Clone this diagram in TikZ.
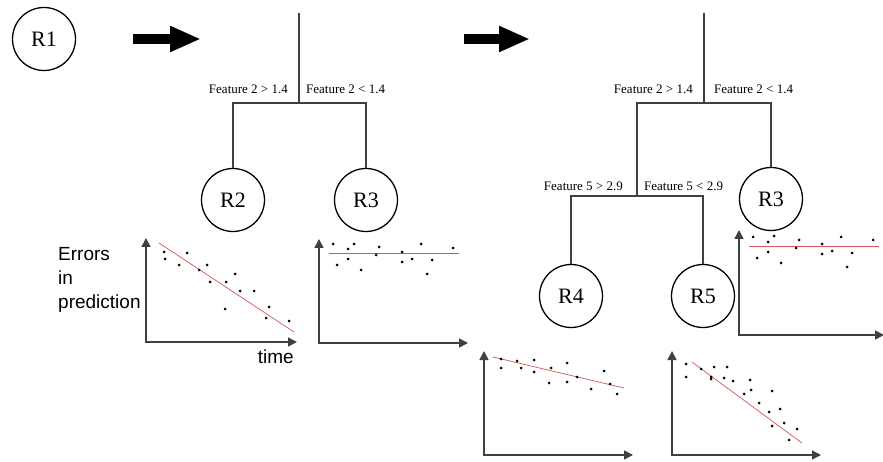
\documentclass[tikz,border=0pt]{standalone}
\usepackage{fontspec}
\setmainfont{Liberation Serif}
\newfontfamily\arialfont{Liberation Sans}
\usetikzlibrary{arrows.meta, positioning}
\definecolor{gray1}{RGB}{64,64,64}
\definecolor{red1}{RGB}{214,84,84}

\begin{document}
\begin{tikzpicture}[x=1pt, y=-1pt]

\tikzstyle{region}	=[circle, draw=black, line width=1.3pt, minimum size=63pt, inner sep=0pt, font=\fontsize{22}{24}\selectfont]
\tikzstyle{feat}	=[inner sep=0pt, font=\fontsize{13}{15}\selectfont]
\tikzstyle{lbl}	=[inner sep=0pt, font=\arialfont\fontsize{19}{24}\selectfont]
\tikzstyle{branch}	=[draw=gray1, line width=1.3pt]
\tikzstyle{axes}	=[draw=gray1, line width=1.5pt, {Triangle[length=9pt,width=9pt]}-{Triangle[length=9pt,width=9pt]}]
\tikzstyle{trend}	=[draw=red1, line width=0.7pt]
\tikzstyle{dot}	=[fill=black]
\tikzstyle{bigarrow}	=[line width=10pt, -{Triangle[length=31pt,width=24pt]}]

\useasboundingbox (0,0) rectangle (883,462);

% single region
\node[region] (r1) at (44,39) {R1};

\coordinate (a1s) at (133,39);
\coordinate (a1e) at (201,39);
\draw[bigarrow] (a1s) -- (a1e);

% first split
\coordinate (t1top)   at (299,13);
\coordinate (t1split) at (299,103);
\node[region] (r2)  at (233,200) {R2};
\node[region] (r3a) at (366,200) {R3};

\node[feat, above left=9.5pt and 11pt of t1split]  (f2a) {Feature 2 > 1.4};
\node[feat, above right=9.5pt and 7pt of t1split]  (f2b) {Feature 2 < 1.4};

\draw[branch] (t1top) -- (t1split);
\draw[branch] (r2.north) |- (t1split) -| (r3a.north);

\coordinate (a2s) at (464,39);
\coordinate (a2e) at (530,39);
\draw[bigarrow] (a2s) -- (a2e);

% second split
\coordinate (t2top)    at (704,13);
\coordinate (t2split)  at (704,103);
\coordinate (t2split2) at (637,196);
\node[region] (r3b) at (771,199) {R3};
\node[region] (r4)  at (571,296) {R4};
\node[region] (r5)  at (703,296) {R5};

\node[feat, above left=9.5pt and 11pt of t2split]   (f2c) {Feature 2 > 1.4};
\node[feat, above right=9.5pt and 10pt of t2split]  (f2d) {Feature 2 < 1.4};
\node[feat, above left=5.5pt and 14pt of t2split2]  (f5a) {Feature 5 > 2.9};
\node[feat, above right=5.5pt and 7pt of t2split2]  (f5b) {Feature 5 < 2.9};

\draw[branch] (t2top) -- (t2split);
\draw[branch] (t2split2) |- (t2split) -| (r3b.north);
\draw[branch] (r4.north) |- (t2split2) -| (r5.north);

% error plots
\coordinate (y1) at (146,238); \coordinate (x1) at (297,342);
\coordinate (y2) at (319,239); \coordinate (x2) at (468,343);
\coordinate (y3) at (739,230); \coordinate (x3) at (884,335);
\coordinate (y4) at (484,351); \coordinate (x4) at (633,455);
\coordinate (y5) at (672,351); \coordinate (x5) at (821,455);
\foreach \n in {1,...,5}
  \draw[axes] (y\n) |- (x\n);

\node[lbl, align=left, anchor=north west] (errlbl) at (58,247) {Errors\\in\\prediction};
\node[lbl, anchor=base east] (timelbl) at (294,363) {time};

\draw[trend] (159,243) -- (294,332);
\foreach \p in {(164,252),(165,259),(179,265),(187,253),(199,270),(207,265),(210,282),(226,282),
                (235,274),(240,291),(254,291),(225,309),(269,307),(266,318),(289,321)}
  \fill[dot] \p circle (1.5);

\draw[trend] (329,253) -- (459,253);
\foreach \p in {(333,244),(337,265),(348,249),(348,259),(354,244),(361,270),(376,255),(379,247),
                (402,252),(402,262),(412,259),(421,244),(432,260),(427,274),(453,248)}
  \fill[dot] \p circle (1.5);

\draw[trend] (749,246) -- (879,246);
\foreach \p in {(753,237),(757,258),(768,242),(768,252),(774,236),(781,263),(796,248),(799,240),
                (822,244),(822,254),(832,251),(841,237),(852,253),(847,267),(873,240)}
  \fill[dot] \p circle (1.5);

\draw[trend] (493,357) -- (624,388);
\foreach \p in {(501,359),(501,368),(517,361),(521,368),(534,360),(534,372),(551,368),(549,383),
                (567,363),(567,382),(577,377),(591,389),(604,371),(610,384),(617,394)}
  \fill[dot] \p circle (1.5);

\draw[trend] (692,362) -- (802,443);
\foreach \p in {(686,364),(686,377),(701,369),(714,367),(727,367),(711,377),(711,379),(724,378),
                (733,381),(750,380),(744,394),(751,390),(759,403),(772,391),(769,412),(780,409),
                (784,423),(772,426),(797,429),(789,440)}
  \fill[dot] \p circle (1.5);

\end{tikzpicture}
\end{document}
